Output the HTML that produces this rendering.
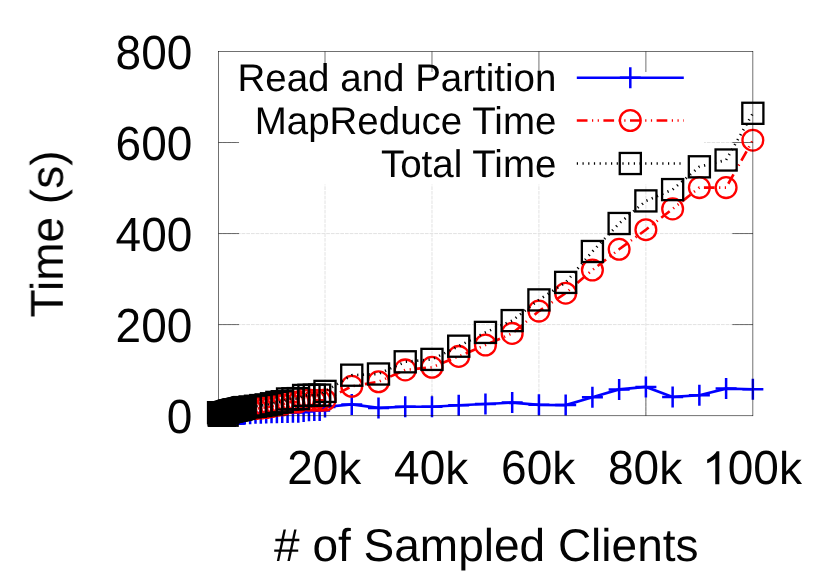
<!DOCTYPE html>
<html><head><meta charset="utf-8"><title>chart</title>
<style>
html,body{margin:0;padding:0;background:#fff;}
body{width:830px;height:581px;overflow:hidden;}
svg{display:block;font-family:"Liberation Sans",sans-serif;}
text{text-rendering:geometricPrecision;}
.p{stroke-width:2.5px}.m{stroke-width:2.3px}
</style></head><body>
<svg width="830" height="581" viewBox="0 0 830 581">
<rect x="0" y="0" width="830" height="581" fill="#ffffff"/>

<g stroke="#e2e2e2" stroke-width="1" stroke-dasharray="3.7 1" fill="none">
<line x1="325.01" y1="415.6" x2="325.01" y2="51.5"/>
<line x1="431.97" y1="415.6" x2="431.97" y2="51.5"/>
<line x1="538.93" y1="415.6" x2="538.93" y2="51.5"/>
<line x1="645.89" y1="415.6" x2="645.89" y2="51.5"/>
<line x1="218.1" y1="324.6" x2="752.9" y2="324.6"/>
<line x1="218.1" y1="233.6" x2="752.9" y2="233.6"/>
<line x1="218.1" y1="142.5" x2="752.9" y2="142.5"/>
</g>
<rect x="237" y="52" width="467" height="132.5" fill="#ffffff"/>
<g stroke="#000" stroke-width="0.56" fill="none">
<line x1="325.01" y1="415.78" x2="325.01" y2="395.28"/>
<line x1="325.01" y1="51.50" x2="325.01" y2="72.00"/>
<line x1="431.97" y1="415.78" x2="431.97" y2="395.28"/>
<line x1="431.97" y1="51.50" x2="431.97" y2="72.00"/>
<line x1="538.93" y1="415.78" x2="538.93" y2="395.28"/>
<line x1="538.93" y1="51.50" x2="538.93" y2="72.00"/>
<line x1="645.89" y1="415.78" x2="645.89" y2="395.28"/>
<line x1="645.89" y1="51.50" x2="645.89" y2="72.00"/>
<line x1="218.55" y1="324.58" x2="239.05" y2="324.58"/>
<line x1="752.88" y1="324.58" x2="732.38" y2="324.58"/>
<line x1="218.55" y1="233.55" x2="239.05" y2="233.55"/>
<line x1="752.88" y1="233.55" x2="732.38" y2="233.55"/>
<line x1="218.55" y1="142.53" x2="239.05" y2="142.53"/>
<line x1="752.88" y1="142.53" x2="732.38" y2="142.53"/>
</g>
<g stroke="#0000ff" stroke-width="2.65" fill="none">
<polyline points="218.58,414.90 219.12,415.29 219.65,415.44 220.19,415.37 220.72,414.93 221.26,415.09 221.79,415.38 222.33,414.96 222.86,415.40 223.40,415.03 223.93,415.37 224.47,415.44 225.00,414.68 225.54,414.66 226.07,414.64 226.61,414.63 227.14,415.44 227.68,414.59 228.21,414.57 228.75,414.55 229.28,414.54 229.82,414.52 230.35,414.50 230.89,414.48 231.42,414.46 231.95,414.44 232.49,414.43 233.02,414.41 233.56,414.39 234.09,414.37 234.63,414.35 235.16,414.33 235.70,414.32 236.23,414.30 236.77,414.28 237.30,414.26 237.84,414.24 238.37,414.23 238.91,414.21 239.44,414.19 239.98,414.17 240.51,414.15 241.05,414.13 241.58,414.12 242.12,414.10 242.65,414.08 243.19,414.06 243.72,414.04 244.26,414.03 244.79,414.01 250.14,413.67 255.49,413.32 260.83,413.17 266.18,413.01 271.53,412.85 276.88,412.69 282.23,412.56 287.57,412.44 292.92,412.31 298.27,412.19 303.62,411.50 308.97,410.82 314.31,410.62 319.66,410.41 325.01,407.00 351.75,404.40 378.49,407.90 405.23,406.70 431.97,406.70 458.71,405.30 485.45,404.00 512.19,402.60 538.93,404.85 565.67,405.10 592.41,397.25 619.15,389.40 645.89,386.90 672.63,396.90 699.37,395.30 726.11,388.60 752.85,389.30"/>
<path class="p" d="M208.08 414.90h21.00M218.58 404.40v21.00"/>
<path class="p" d="M208.62 415.29h21.00M219.12 404.79v21.00"/>
<path class="p" d="M209.15 415.44h21.00M219.65 404.94v21.00"/>
<path class="p" d="M209.69 415.37h21.00M220.19 404.87v21.00"/>
<path class="p" d="M210.22 414.93h21.00M220.72 404.43v21.00"/>
<path class="p" d="M210.76 415.09h21.00M221.26 404.59v21.00"/>
<path class="p" d="M211.29 415.38h21.00M221.79 404.88v21.00"/>
<path class="p" d="M211.83 414.96h21.00M222.33 404.46v21.00"/>
<path class="p" d="M212.36 415.40h21.00M222.86 404.90v21.00"/>
<path class="p" d="M212.90 415.03h21.00M223.40 404.53v21.00"/>
<path class="p" d="M213.43 415.37h21.00M223.93 404.87v21.00"/>
<path class="p" d="M213.97 415.44h21.00M224.47 404.94v21.00"/>
<path class="p" d="M214.50 414.68h21.00M225.00 404.18v21.00"/>
<path class="p" d="M215.04 414.66h21.00M225.54 404.16v21.00"/>
<path class="p" d="M215.57 414.64h21.00M226.07 404.14v21.00"/>
<path class="p" d="M216.11 414.63h21.00M226.61 404.13v21.00"/>
<path class="p" d="M216.64 415.44h21.00M227.14 404.94v21.00"/>
<path class="p" d="M217.18 414.59h21.00M227.68 404.09v21.00"/>
<path class="p" d="M217.71 414.57h21.00M228.21 404.07v21.00"/>
<path class="p" d="M218.25 414.55h21.00M228.75 404.05v21.00"/>
<path class="p" d="M218.78 414.54h21.00M229.28 404.04v21.00"/>
<path class="p" d="M219.32 414.52h21.00M229.82 404.02v21.00"/>
<path class="p" d="M219.85 414.50h21.00M230.35 404.00v21.00"/>
<path class="p" d="M220.39 414.48h21.00M230.89 403.98v21.00"/>
<path class="p" d="M220.92 414.46h21.00M231.42 403.96v21.00"/>
<path class="p" d="M221.45 414.44h21.00M231.95 403.94v21.00"/>
<path class="p" d="M221.99 414.43h21.00M232.49 403.93v21.00"/>
<path class="p" d="M222.52 414.41h21.00M233.02 403.91v21.00"/>
<path class="p" d="M223.06 414.39h21.00M233.56 403.89v21.00"/>
<path class="p" d="M223.59 414.37h21.00M234.09 403.87v21.00"/>
<path class="p" d="M224.13 414.35h21.00M234.63 403.85v21.00"/>
<path class="p" d="M224.66 414.33h21.00M235.16 403.83v21.00"/>
<path class="p" d="M225.20 414.32h21.00M235.70 403.82v21.00"/>
<path class="p" d="M225.73 414.30h21.00M236.23 403.80v21.00"/>
<path class="p" d="M226.27 414.28h21.00M236.77 403.78v21.00"/>
<path class="p" d="M226.80 414.26h21.00M237.30 403.76v21.00"/>
<path class="p" d="M227.34 414.24h21.00M237.84 403.74v21.00"/>
<path class="p" d="M227.87 414.23h21.00M238.37 403.73v21.00"/>
<path class="p" d="M228.41 414.21h21.00M238.91 403.71v21.00"/>
<path class="p" d="M228.94 414.19h21.00M239.44 403.69v21.00"/>
<path class="p" d="M229.48 414.17h21.00M239.98 403.67v21.00"/>
<path class="p" d="M230.01 414.15h21.00M240.51 403.65v21.00"/>
<path class="p" d="M230.55 414.13h21.00M241.05 403.63v21.00"/>
<path class="p" d="M231.08 414.12h21.00M241.58 403.62v21.00"/>
<path class="p" d="M231.62 414.10h21.00M242.12 403.60v21.00"/>
<path class="p" d="M232.15 414.08h21.00M242.65 403.58v21.00"/>
<path class="p" d="M232.69 414.06h21.00M243.19 403.56v21.00"/>
<path class="p" d="M233.22 414.04h21.00M243.72 403.54v21.00"/>
<path class="p" d="M233.76 414.03h21.00M244.26 403.53v21.00"/>
<path class="p" d="M234.29 414.01h21.00M244.79 403.51v21.00"/>
<path class="p" d="M239.64 413.67h21.00M250.14 403.17v21.00"/>
<path class="p" d="M244.99 413.32h21.00M255.49 402.82v21.00"/>
<path class="p" d="M250.33 413.17h21.00M260.83 402.67v21.00"/>
<path class="p" d="M255.68 413.01h21.00M266.18 402.51v21.00"/>
<path class="p" d="M261.03 412.85h21.00M271.53 402.35v21.00"/>
<path class="p" d="M266.38 412.69h21.00M276.88 402.19v21.00"/>
<path class="p" d="M271.73 412.56h21.00M282.23 402.06v21.00"/>
<path class="p" d="M277.07 412.44h21.00M287.57 401.94v21.00"/>
<path class="p" d="M282.42 412.31h21.00M292.92 401.81v21.00"/>
<path class="p" d="M287.77 412.19h21.00M298.27 401.69v21.00"/>
<path class="p" d="M293.12 411.50h21.00M303.62 401.00v21.00"/>
<path class="p" d="M298.47 410.82h21.00M308.97 400.32v21.00"/>
<path class="p" d="M303.81 410.62h21.00M314.31 400.12v21.00"/>
<path class="p" d="M309.16 410.41h21.00M319.66 399.91v21.00"/>
<path class="p" d="M314.51 407.00h21.00M325.01 396.50v21.00"/>
<path class="p" d="M341.25 404.40h21.00M351.75 393.90v21.00"/>
<path class="p" d="M367.99 407.90h21.00M378.49 397.40v21.00"/>
<path class="p" d="M394.73 406.70h21.00M405.23 396.20v21.00"/>
<path class="p" d="M421.47 406.70h21.00M431.97 396.20v21.00"/>
<path class="p" d="M448.21 405.30h21.00M458.71 394.80v21.00"/>
<path class="p" d="M474.95 404.00h21.00M485.45 393.50v21.00"/>
<path class="p" d="M501.69 402.60h21.00M512.19 392.10v21.00"/>
<path class="p" d="M528.43 404.85h21.00M538.93 394.35v21.00"/>
<path class="p" d="M555.17 405.10h21.00M565.67 394.60v21.00"/>
<path class="p" d="M581.91 397.25h21.00M592.41 386.75v21.00"/>
<path class="p" d="M608.65 389.40h21.00M619.15 378.90v21.00"/>
<path class="p" d="M635.39 386.90h21.00M645.89 376.40v21.00"/>
<path class="p" d="M662.13 396.90h21.00M672.63 386.40v21.00"/>
<path class="p" d="M688.87 395.30h21.00M699.37 384.80v21.00"/>
<path class="p" d="M715.61 388.60h21.00M726.11 378.10v21.00"/>
<path class="p" d="M742.35 389.30h21.00M752.85 378.80v21.00"/>
</g>
<g stroke="#ff0000" stroke-width="2.65" fill="none">
<polyline points="218.58,413.39 219.12,415.14 219.65,415.35 220.19,415.25 220.72,414.59 221.26,414.83 221.79,415.27 222.33,414.63 222.86,415.30 223.40,414.74 223.93,415.26 224.47,415.35 225.00,413.70 225.54,413.53 226.07,413.37 226.61,413.21 227.14,415.35 227.68,412.88 228.21,412.71 228.75,412.55 229.28,412.43 229.82,412.31 230.35,412.20 230.89,412.08 231.42,411.96 231.95,411.84 232.49,411.72 233.02,411.60 233.56,411.49 234.09,411.37 234.63,411.29 235.16,411.22 235.70,411.15 236.23,411.08 236.77,411.00 237.30,410.93 237.84,410.86 238.37,410.78 238.91,410.71 239.44,410.64 239.98,410.49 240.51,410.35 241.05,410.20 241.58,410.06 242.12,409.91 242.65,409.77 243.19,409.62 243.72,409.47 244.26,409.33 244.79,409.18 250.14,408.89 255.49,408.55 260.83,408.02 266.18,407.50 271.53,406.52 276.88,405.31 282.23,404.76 287.57,402.15 292.92,402.09 298.27,402.04 303.62,399.58 308.97,400.08 314.31,400.19 319.66,400.31 325.01,399.99 351.75,386.30 378.49,381.80 405.23,369.90 431.97,367.30 458.71,356.40 485.45,345.00 512.19,333.40 538.93,311.10 565.67,293.20 592.41,270.00 619.15,249.30 645.89,229.70 672.63,208.90 699.37,187.60 726.11,187.60 752.85,140.20" stroke-dasharray="10.7 4.5 1.2 4.5 1.2 4.5"/>
<circle class="m" cx="218.58" cy="413.39" r="10.40"/>
<circle class="m" cx="219.12" cy="415.14" r="10.40"/>
<circle class="m" cx="219.65" cy="415.35" r="10.40"/>
<circle class="m" cx="220.19" cy="415.25" r="10.40"/>
<circle class="m" cx="220.72" cy="414.59" r="10.40"/>
<circle class="m" cx="221.26" cy="414.83" r="10.40"/>
<circle class="m" cx="221.79" cy="415.27" r="10.40"/>
<circle class="m" cx="222.33" cy="414.63" r="10.40"/>
<circle class="m" cx="222.86" cy="415.30" r="10.40"/>
<circle class="m" cx="223.40" cy="414.74" r="10.40"/>
<circle class="m" cx="223.93" cy="415.26" r="10.40"/>
<circle class="m" cx="224.47" cy="415.35" r="10.40"/>
<circle class="m" cx="225.00" cy="413.70" r="10.40"/>
<circle class="m" cx="225.54" cy="413.53" r="10.40"/>
<circle class="m" cx="226.07" cy="413.37" r="10.40"/>
<circle class="m" cx="226.61" cy="413.21" r="10.40"/>
<circle class="m" cx="227.14" cy="415.35" r="10.40"/>
<circle class="m" cx="227.68" cy="412.88" r="10.40"/>
<circle class="m" cx="228.21" cy="412.71" r="10.40"/>
<circle class="m" cx="228.75" cy="412.55" r="10.40"/>
<circle class="m" cx="229.28" cy="412.43" r="10.40"/>
<circle class="m" cx="229.82" cy="412.31" r="10.40"/>
<circle class="m" cx="230.35" cy="412.20" r="10.40"/>
<circle class="m" cx="230.89" cy="412.08" r="10.40"/>
<circle class="m" cx="231.42" cy="411.96" r="10.40"/>
<circle class="m" cx="231.95" cy="411.84" r="10.40"/>
<circle class="m" cx="232.49" cy="411.72" r="10.40"/>
<circle class="m" cx="233.02" cy="411.60" r="10.40"/>
<circle class="m" cx="233.56" cy="411.49" r="10.40"/>
<circle class="m" cx="234.09" cy="411.37" r="10.40"/>
<circle class="m" cx="234.63" cy="411.29" r="10.40"/>
<circle class="m" cx="235.16" cy="411.22" r="10.40"/>
<circle class="m" cx="235.70" cy="411.15" r="10.40"/>
<circle class="m" cx="236.23" cy="411.08" r="10.40"/>
<circle class="m" cx="236.77" cy="411.00" r="10.40"/>
<circle class="m" cx="237.30" cy="410.93" r="10.40"/>
<circle class="m" cx="237.84" cy="410.86" r="10.40"/>
<circle class="m" cx="238.37" cy="410.78" r="10.40"/>
<circle class="m" cx="238.91" cy="410.71" r="10.40"/>
<circle class="m" cx="239.44" cy="410.64" r="10.40"/>
<circle class="m" cx="239.98" cy="410.49" r="10.40"/>
<circle class="m" cx="240.51" cy="410.35" r="10.40"/>
<circle class="m" cx="241.05" cy="410.20" r="10.40"/>
<circle class="m" cx="241.58" cy="410.06" r="10.40"/>
<circle class="m" cx="242.12" cy="409.91" r="10.40"/>
<circle class="m" cx="242.65" cy="409.77" r="10.40"/>
<circle class="m" cx="243.19" cy="409.62" r="10.40"/>
<circle class="m" cx="243.72" cy="409.47" r="10.40"/>
<circle class="m" cx="244.26" cy="409.33" r="10.40"/>
<circle class="m" cx="244.79" cy="409.18" r="10.40"/>
<circle class="m" cx="250.14" cy="408.89" r="10.40"/>
<circle class="m" cx="255.49" cy="408.55" r="10.40"/>
<circle class="m" cx="260.83" cy="408.02" r="10.40"/>
<circle class="m" cx="266.18" cy="407.50" r="10.40"/>
<circle class="m" cx="271.53" cy="406.52" r="10.40"/>
<circle class="m" cx="276.88" cy="405.31" r="10.40"/>
<circle class="m" cx="282.23" cy="404.76" r="10.40"/>
<circle class="m" cx="287.57" cy="402.15" r="10.40"/>
<circle class="m" cx="292.92" cy="402.09" r="10.40"/>
<circle class="m" cx="298.27" cy="402.04" r="10.40"/>
<circle class="m" cx="303.62" cy="399.58" r="10.40"/>
<circle class="m" cx="308.97" cy="400.08" r="10.40"/>
<circle class="m" cx="314.31" cy="400.19" r="10.40"/>
<circle class="m" cx="319.66" cy="400.31" r="10.40"/>
<circle class="m" cx="325.01" cy="399.99" r="10.40"/>
<circle class="m" cx="351.75" cy="386.30" r="10.40"/>
<circle class="m" cx="378.49" cy="381.80" r="10.40"/>
<circle class="m" cx="405.23" cy="369.90" r="10.40"/>
<circle class="m" cx="431.97" cy="367.30" r="10.40"/>
<circle class="m" cx="458.71" cy="356.40" r="10.40"/>
<circle class="m" cx="485.45" cy="345.00" r="10.40"/>
<circle class="m" cx="512.19" cy="333.40" r="10.40"/>
<circle class="m" cx="538.93" cy="311.10" r="10.40"/>
<circle class="m" cx="565.67" cy="293.20" r="10.40"/>
<circle class="m" cx="592.41" cy="270.00" r="10.40"/>
<circle class="m" cx="619.15" cy="249.30" r="10.40"/>
<circle class="m" cx="645.89" cy="229.70" r="10.40"/>
<circle class="m" cx="672.63" cy="208.90" r="10.40"/>
<circle class="m" cx="699.37" cy="187.60" r="10.40"/>
<circle class="m" cx="726.11" cy="187.60" r="10.40"/>
<circle class="m" cx="752.85" cy="140.20" r="10.40"/>
</g>
<g stroke="#000000" stroke-width="2.65" fill="none">
<polyline points="218.58,412.69 219.12,414.83 219.65,415.19 220.19,415.02 220.72,413.92 221.26,414.32 221.79,415.05 222.33,413.99 222.86,415.10 223.40,414.16 223.93,415.03 224.47,415.19 225.00,412.78 225.54,412.60 226.07,412.41 226.61,412.23 227.14,415.19 227.68,411.87 228.21,411.69 228.75,411.50 229.28,411.37 229.82,411.23 230.35,411.09 230.89,410.96 231.42,410.82 231.95,410.68 232.49,410.55 233.02,410.41 233.56,410.28 234.09,410.14 234.63,410.05 235.16,409.96 235.70,409.87 236.23,409.77 236.77,409.68 237.30,409.59 237.84,409.50 238.37,409.41 238.91,409.32 239.44,409.23 239.98,409.06 240.51,408.90 241.05,408.74 241.58,408.57 242.12,408.41 242.65,408.25 243.19,408.08 243.72,407.92 244.26,407.75 244.79,407.59 250.14,406.95 255.49,406.27 260.83,405.59 266.18,404.90 271.53,403.77 276.88,402.40 282.23,401.72 287.57,398.99 292.92,398.81 298.27,398.62 303.62,395.48 308.97,395.30 314.31,395.21 319.66,395.12 325.01,391.39 351.75,375.20 378.49,374.00 405.23,361.80 431.97,359.40 458.71,346.20 485.45,332.40 512.19,320.60 538.93,299.90 565.67,282.40 592.41,251.50 619.15,223.50 645.89,200.90 672.63,189.60 699.37,166.80 726.11,160.00 752.85,113.30" stroke-dasharray="1.2 4.5"/>
<rect class="m" x="208.03" y="402.14" width="21.10" height="21.10"/>
<rect class="m" x="208.57" y="404.28" width="21.10" height="21.10"/>
<rect class="m" x="209.10" y="404.64" width="21.10" height="21.10"/>
<rect class="m" x="209.64" y="404.47" width="21.10" height="21.10"/>
<rect class="m" x="210.17" y="403.37" width="21.10" height="21.10"/>
<rect class="m" x="210.71" y="403.77" width="21.10" height="21.10"/>
<rect class="m" x="211.24" y="404.50" width="21.10" height="21.10"/>
<rect class="m" x="211.78" y="403.44" width="21.10" height="21.10"/>
<rect class="m" x="212.31" y="404.55" width="21.10" height="21.10"/>
<rect class="m" x="212.85" y="403.61" width="21.10" height="21.10"/>
<rect class="m" x="213.38" y="404.48" width="21.10" height="21.10"/>
<rect class="m" x="213.92" y="404.64" width="21.10" height="21.10"/>
<rect class="m" x="214.45" y="402.23" width="21.10" height="21.10"/>
<rect class="m" x="214.99" y="402.05" width="21.10" height="21.10"/>
<rect class="m" x="215.52" y="401.86" width="21.10" height="21.10"/>
<rect class="m" x="216.06" y="401.68" width="21.10" height="21.10"/>
<rect class="m" x="216.59" y="404.64" width="21.10" height="21.10"/>
<rect class="m" x="217.13" y="401.32" width="21.10" height="21.10"/>
<rect class="m" x="217.66" y="401.14" width="21.10" height="21.10"/>
<rect class="m" x="218.20" y="400.95" width="21.10" height="21.10"/>
<rect class="m" x="218.73" y="400.82" width="21.10" height="21.10"/>
<rect class="m" x="219.27" y="400.68" width="21.10" height="21.10"/>
<rect class="m" x="219.80" y="400.54" width="21.10" height="21.10"/>
<rect class="m" x="220.34" y="400.41" width="21.10" height="21.10"/>
<rect class="m" x="220.87" y="400.27" width="21.10" height="21.10"/>
<rect class="m" x="221.40" y="400.13" width="21.10" height="21.10"/>
<rect class="m" x="221.94" y="400.00" width="21.10" height="21.10"/>
<rect class="m" x="222.47" y="399.86" width="21.10" height="21.10"/>
<rect class="m" x="223.01" y="399.73" width="21.10" height="21.10"/>
<rect class="m" x="223.54" y="399.59" width="21.10" height="21.10"/>
<rect class="m" x="224.08" y="399.50" width="21.10" height="21.10"/>
<rect class="m" x="224.61" y="399.41" width="21.10" height="21.10"/>
<rect class="m" x="225.15" y="399.32" width="21.10" height="21.10"/>
<rect class="m" x="225.68" y="399.22" width="21.10" height="21.10"/>
<rect class="m" x="226.22" y="399.13" width="21.10" height="21.10"/>
<rect class="m" x="226.75" y="399.04" width="21.10" height="21.10"/>
<rect class="m" x="227.29" y="398.95" width="21.10" height="21.10"/>
<rect class="m" x="227.82" y="398.86" width="21.10" height="21.10"/>
<rect class="m" x="228.36" y="398.77" width="21.10" height="21.10"/>
<rect class="m" x="228.89" y="398.68" width="21.10" height="21.10"/>
<rect class="m" x="229.43" y="398.51" width="21.10" height="21.10"/>
<rect class="m" x="229.96" y="398.35" width="21.10" height="21.10"/>
<rect class="m" x="230.50" y="398.19" width="21.10" height="21.10"/>
<rect class="m" x="231.03" y="398.02" width="21.10" height="21.10"/>
<rect class="m" x="231.57" y="397.86" width="21.10" height="21.10"/>
<rect class="m" x="232.10" y="397.70" width="21.10" height="21.10"/>
<rect class="m" x="232.64" y="397.53" width="21.10" height="21.10"/>
<rect class="m" x="233.17" y="397.37" width="21.10" height="21.10"/>
<rect class="m" x="233.71" y="397.20" width="21.10" height="21.10"/>
<rect class="m" x="234.24" y="397.04" width="21.10" height="21.10"/>
<rect class="m" x="239.59" y="396.40" width="21.10" height="21.10"/>
<rect class="m" x="244.94" y="395.72" width="21.10" height="21.10"/>
<rect class="m" x="250.28" y="395.04" width="21.10" height="21.10"/>
<rect class="m" x="255.63" y="394.35" width="21.10" height="21.10"/>
<rect class="m" x="260.98" y="393.22" width="21.10" height="21.10"/>
<rect class="m" x="266.33" y="391.85" width="21.10" height="21.10"/>
<rect class="m" x="271.68" y="391.17" width="21.10" height="21.10"/>
<rect class="m" x="277.02" y="388.44" width="21.10" height="21.10"/>
<rect class="m" x="282.37" y="388.26" width="21.10" height="21.10"/>
<rect class="m" x="287.72" y="388.07" width="21.10" height="21.10"/>
<rect class="m" x="293.07" y="384.93" width="21.10" height="21.10"/>
<rect class="m" x="298.42" y="384.75" width="21.10" height="21.10"/>
<rect class="m" x="303.76" y="384.66" width="21.10" height="21.10"/>
<rect class="m" x="309.11" y="384.57" width="21.10" height="21.10"/>
<rect class="m" x="314.46" y="380.84" width="21.10" height="21.10"/>
<rect class="m" x="341.20" y="364.65" width="21.10" height="21.10"/>
<rect class="m" x="367.94" y="363.45" width="21.10" height="21.10"/>
<rect class="m" x="394.68" y="351.25" width="21.10" height="21.10"/>
<rect class="m" x="421.42" y="348.85" width="21.10" height="21.10"/>
<rect class="m" x="448.16" y="335.65" width="21.10" height="21.10"/>
<rect class="m" x="474.90" y="321.85" width="21.10" height="21.10"/>
<rect class="m" x="501.64" y="310.05" width="21.10" height="21.10"/>
<rect class="m" x="528.38" y="289.35" width="21.10" height="21.10"/>
<rect class="m" x="555.12" y="271.85" width="21.10" height="21.10"/>
<rect class="m" x="581.86" y="240.95" width="21.10" height="21.10"/>
<rect class="m" x="608.60" y="212.95" width="21.10" height="21.10"/>
<rect class="m" x="635.34" y="190.35" width="21.10" height="21.10"/>
<rect class="m" x="662.08" y="179.05" width="21.10" height="21.10"/>
<rect class="m" x="688.82" y="156.25" width="21.10" height="21.10"/>
<rect class="m" x="715.56" y="149.45" width="21.10" height="21.10"/>
<rect class="m" x="742.30" y="102.75" width="21.10" height="21.10"/>
</g>
<g stroke="#0000ff" stroke-width="2.65" fill="none"><line x1="576.8" y1="77.7" x2="683.8" y2="77.7"/><path class="p" d="M619.80 77.70h21.00M630.30 67.20v21.00"/></g>
<g stroke="#ff0000" stroke-width="2.65" fill="none"><line x1="576.8" y1="120.5" x2="683.8" y2="120.5" stroke-dasharray="10.7 4.5 1.2 4.5 1.2 4.5"/><circle class="m" cx="630.30" cy="120.50" r="10.40"/></g>
<g stroke="#000000" stroke-width="2.65" fill="none"><line x1="576.8" y1="163.5" x2="683.8" y2="163.5" stroke-dasharray="1.2 4.5"/><rect class="m" x="619.75" y="152.95" width="21.10" height="21.10"/></g>
<rect x="218.55" y="51.50" width="534.33" height="364.28" stroke="#000" stroke-width="0.56" fill="none"/>
<g font-size="46" fill="#000" opacity="0.99">
<g font-size="38.5" text-anchor="end"><text x="556.4" y="91.4">Read and Partition</text><text x="556.4" y="134.3">MapReduce Time</text><text x="556.4" y="177.0">Total Time</text></g>
<text transform="translate(166.72,433.20) scale(1,1.04)">0</text>
<text transform="translate(115.55,342.18) scale(1,1.04)">200</text>
<text transform="translate(115.55,251.15) scale(1,1.04)">400</text>
<text transform="translate(115.55,160.13) scale(1,1.04)">600</text>
<text transform="translate(115.55,69.10) scale(1,1.04)">800</text>
<text transform="translate(287.13,484.20) scale(1,1.04)">20</text>
<text x="338.29" y="484.2">k</text>
<text transform="translate(394.09,484.20) scale(1,1.04)">40</text>
<text x="445.25" y="484.2">k</text>
<text transform="translate(501.05,484.20) scale(1,1.04)">60</text>
<text x="552.21" y="484.2">k</text>
<text transform="translate(608.01,484.20) scale(1,1.04)">80</text>
<text x="659.17" y="484.2">k</text>
<path transform="translate(702.18,484.2) scale(0.02246,-0.02246)" d="M763 0H583V1147Q518 1085 412.5 1023T223 930V1104Q374 1175 487 1276T647 1472H763Z"/>
<text transform="translate(727.76,484.20) scale(1,1.04)">00</text>
<text x="778.92" y="484.2">k</text>
<text x="486.3" y="561" text-anchor="middle"># of Sampled Clients</text>
<text transform="translate(62.8,234) rotate(-90)" text-anchor="middle">Time (s)</text>
</g>
</svg></body></html>
